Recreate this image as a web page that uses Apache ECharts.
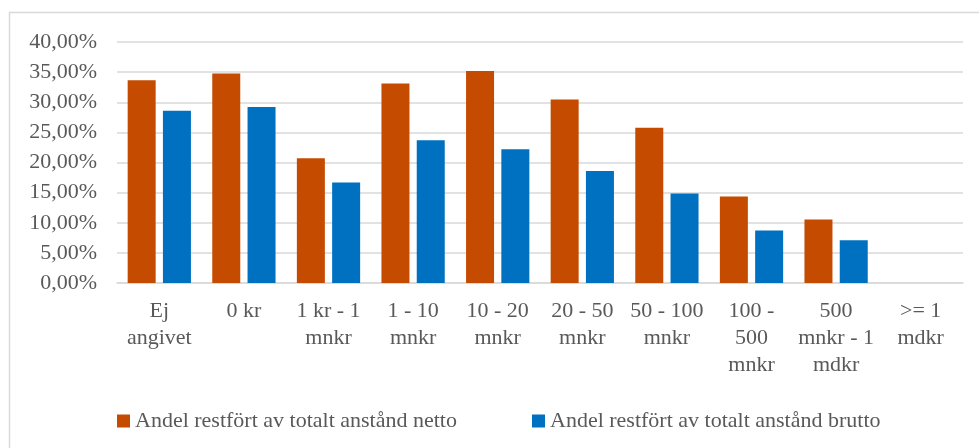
<!DOCTYPE html>
<html>
<head>
<meta charset="utf-8">
<script src="https://cdn.jsdelivr.net/npm/echarts@6/dist/echarts.min.js"></script>
<style>html,body{margin:0;padding:0;background:#fff;}#c{width:979px;height:448px;}</style>
</head>
<body>
<div id="c"></div>
<script>
var categories = ["Ej\nangivet", "0 kr", "1 kr - 1\nmnkr", "1 - 10\nmnkr", "10 - 20\nmnkr", "20 - 50\nmnkr", "50 - 100\nmnkr", "100 -\n500\nmnkr", "500\nmnkr - 1\nmdkr", ">= 1\nmdkr"];
var nettoName = "Andel restfört av totalt anstånd netto";
var bruttoName = "Andel restfört av totalt anstånd brutto";
var netto = [33.66, 34.76, 20.7, 33.1, 35.2, 30.46, 25.76, 14.37, 10.56, 0];
var brutto = [28.6, 29.2, 16.7, 23.7, 22.2, 18.57, 14.87, 8.73, 7.08, 0];

var FONT = "'Liberation Serif', 'DejaVu Serif', serif";
var TXT = '#595959';
var chart = echarts.init(document.getElementById('c'), null, {renderer: 'canvas'});
chart.setOption({
  animation: false,
  backgroundColor: '#fff',
  graphic: [{
    type: 'rect', silent: true,
    shape: {x: 9.5, y: 12.5, width: 1200, height: 600},
    style: {fill: 'none', stroke: '#d9d9d9', lineWidth: 1.5}
  }],
  grid: {left: 117, right: 16, top: 42, bottom: 165, containLabel: false},
  legend: [{
    data: [nettoName], left: 112, top: 405, icon: 'rect', itemWidth: 13, itemHeight: 13, itemGap: 5,
    textStyle: {fontFamily: FONT, fontSize: 22, color: TXT}
  }, {
    data: [bruttoName], left: 527, top: 405, icon: 'rect', itemWidth: 13, itemHeight: 13, itemGap: 5,
    textStyle: {fontFamily: FONT, fontSize: 22, color: TXT}
  }],
  xAxis: {
    type: 'category', data: categories,
    axisLine: {lineStyle: {color: '#d9d9d9', width: 1.5}},
    axisTick: {show: false},
    axisLabel: {fontFamily: FONT, fontSize: 22, color: TXT, lineHeight: 27, margin: 15, interval: 0}
  },
  yAxis: {
    type: 'value', min: 0, max: 40, interval: 5,
    axisLine: {show: false}, axisTick: {show: false},
    splitLine: {lineStyle: {color: '#d9d9d9', width: 1.5}},
    axisLabel: {fontFamily: FONT, fontSize: 22, color: TXT, margin: 20,
      formatter: function (v) { return v.toFixed(2).replace('.', ',') + '%'; }}
  },
  series: [{
    name: nettoName, type: 'bar', data: netto, barWidth: 28, barGap: '26%',
    itemStyle: {color: '#C54B00'}
  }, {
    name: bruttoName, type: 'bar', data: brutto, barWidth: 28,
    itemStyle: {color: '#0070C0'}
  }]
});
</script>
</body>
</html>
